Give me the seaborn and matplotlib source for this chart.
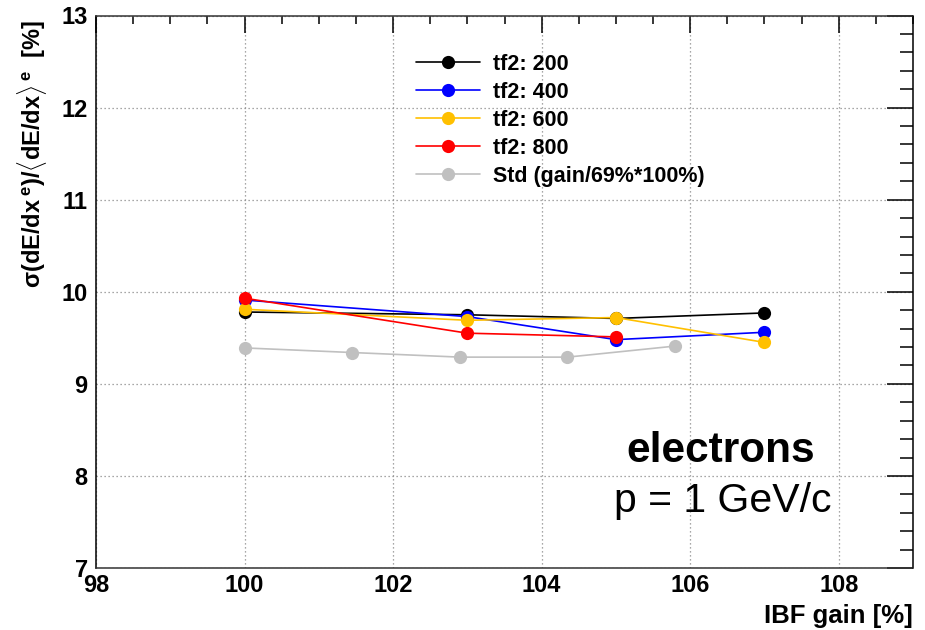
import numpy as np
import pandas as pd
import matplotlib
matplotlib.use("Agg")
import matplotlib.pyplot as plt
from matplotlib.ticker import MultipleLocator
import seaborn as sns

# IBF gain [%] for the tf2 scans and the standard (gain / 69% * 100%) points
ibf_tf2 = [100, 103, 105, 107]
ibf_std = [100.0, 101.449, 102.899, 104.348, 105.797]

# dE/dx resolution [%]
res_tf2_200 = [9.78, 9.75, 9.71, 9.77]
res_tf2_400 = [9.91, 9.73, 9.48, 9.56]
res_tf2_600 = [9.81, 9.69, 9.72, 9.45]
res_tf2_800 = [9.93, 9.55, 9.51]
res_std = [9.39, 9.34, 9.29, 9.29, 9.41]

labels = ["tf2: 200", "tf2: 400", "tf2: 600", "tf2: 800", "Std (gain/69%*100%)"]
colors = ["#000000", "#0000ff", "#ffc000", "#ff0000", "#c0c0c0"]

series = [
    (ibf_tf2, res_tf2_200),
    (ibf_tf2, res_tf2_400),
    (ibf_tf2, res_tf2_600),
    (ibf_tf2[:3], res_tf2_800),
    (ibf_std, res_std),
]

sns.set_theme(style="white")
plt.rcParams["font.family"] = ["Liberation Sans", "DejaVu Sans"]
plt.rcParams["text.color"] = "black"
plt.rcParams["axes.labelcolor"] = "black"
plt.rcParams["xtick.color"] = "black"
plt.rcParams["ytick.color"] = "black"
plt.rcParams["mathtext.fontset"] = "custom"
plt.rcParams["mathtext.rm"] = "Liberation Sans:bold"
plt.rcParams["mathtext.it"] = "Liberation Sans:bold"
plt.rcParams["mathtext.bf"] = "Liberation Sans:bold"

fig = plt.figure(figsize=(9.25, 6.3), dpi=100)
ax = fig.add_axes([96 / 925, 1 - 568 / 630, 817 / 925, 552.5 / 630])

# draw order: std first, then tf2 200 .. 800 on top
order = [4, 0, 1, 2, 3]
for i in order:
    xs, ys = series[i]
    df = pd.DataFrame({"ibf": xs, "res": ys})
    sns.lineplot(data=df, x="ibf", y="res", ax=ax, color=colors[i],
                 marker="o", markersize=9.5, markeredgewidth=0,
                 linewidth=1.2, label=labels[i], sort=False, zorder=3 + i)

ax.set_xlim(98, 109)
ax.set_ylim(7, 13)
ax.xaxis.set_major_locator(MultipleLocator(2))
ax.xaxis.set_minor_locator(MultipleLocator(0.5))
ax.yaxis.set_major_locator(MultipleLocator(1))
ax.yaxis.set_minor_locator(MultipleLocator(0.2))

ax.grid(True, which="major", linestyle=(0, (1, 2.2)), color="#8a8a8a", linewidth=0.9)
ax.tick_params(which="both", direction="in", top=True, right=True,
               color="black", width=1.1)
ax.tick_params(axis="x", which="major", length=12, labelsize=17, pad=4)
ax.tick_params(axis="x", which="minor", length=5.5)
ax.tick_params(axis="y", which="major", length=19, labelsize=17, pad=6)
ax.tick_params(axis="y", which="minor", length=9.5)
for lab in ax.get_xticklabels() + ax.get_yticklabels():
    lab.set_fontweight("bold")
for name, s in ax.spines.items():
    s.set_color("black")
    s.set_linewidth(1.1)
for name in ("top", "bottom"):
    ax.spines[name].set_linestyle((0, (1.5, 1)))
    ax.spines[name].set_color("#333333")

ax.set_xlabel("IBF gain [%]", fontsize=18.5, fontweight="bold", loc="right")
ax.xaxis.set_label_coords(1.0, -0.1)
ax.xaxis.label.set_va("baseline")
ax.set_ylabel(r"$\sigma$(dE/dx$^{\;e}$)/$\langle$dE/dx$\rangle^{\;e}$  [%]",
              fontsize=17, fontweight="bold", loc="top")
ax.yaxis.set_label_coords(-0.078, 0.993)
ax.yaxis.label.set_va("center")

# legend in the original series order
h, l = ax.get_legend_handles_labels()
lookup = dict(zip(l, h))
ax.legend([lookup[k] for k in labels], labels, loc="upper left",
          bbox_to_anchor=(0.381, 0.946), frameon=False,
          prop={"weight": "bold", "size": 15.5}, handlelength=3.0,
          labelspacing=0.32, handletextpad=0.6, borderaxespad=0)

ax.text(0.764, 0.1917, "electrons", transform=ax.transAxes, ha="center",
        va="baseline", fontsize=30.5, fontweight="bold")
ax.text(0.767, 0.1013, "p = 1 GeV/c", transform=ax.transAxes, ha="center",
        va="baseline", fontsize=29.5)

fig.savefig("out.png", dpi=100, facecolor="white")
